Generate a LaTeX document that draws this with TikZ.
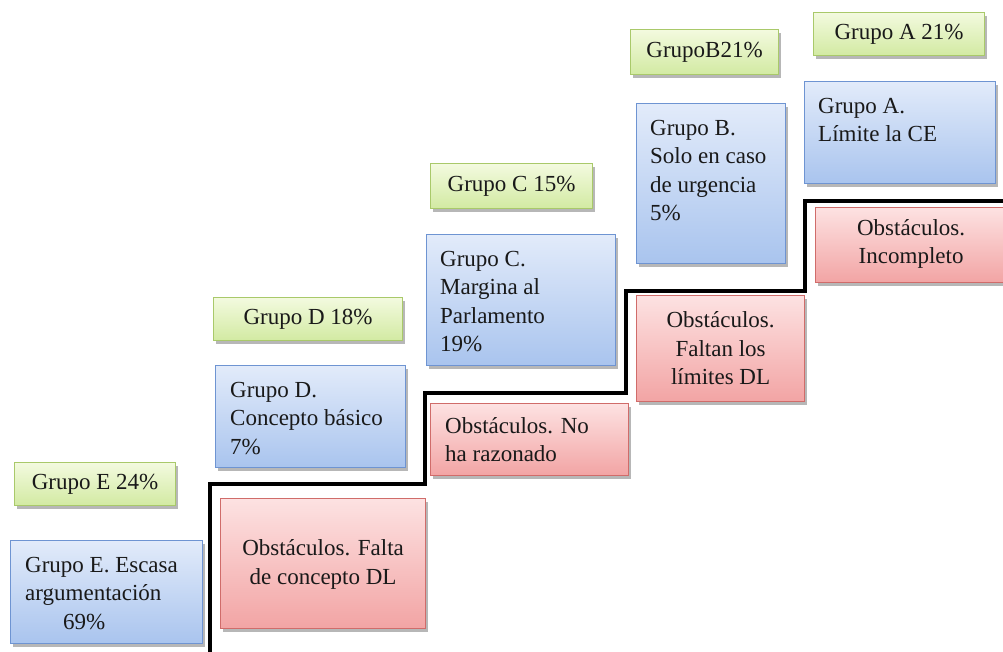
\documentclass[tikz,border=0pt]{standalone}
\usepackage{fontspec}
\setmainfont{Liberation Serif}
\usetikzlibrary{shadows}
\definecolor{gborder}{HTML}{A9C96A}
\definecolor{gtop}{HTML}{F3FADF}
\definecolor{gbot}{HTML}{D2EAA2}
\definecolor{bborder}{HTML}{6E94D2}
\definecolor{btop}{HTML}{E2EBFA}
\definecolor{bbot}{HTML}{A9C4EE}
\definecolor{rborder}{HTML}{D06C6A}
\definecolor{rtop}{HTML}{FDE2E2}
\definecolor{rbot}{HTML}{F2A4A4}
\tikzset{
  box/.style={rectangle, inner sep=0pt, line width=1.2pt, anchor=north west,
    drop shadow={shadow xshift=2pt, shadow yshift=-3pt, opacity=0.4, fill=black!70}},
  gbox/.style={box, draw=gborder, top color=gtop, bottom color=gbot},
  bbox/.style={box, draw=bborder, top color=btop, bottom color=bbot},
  rbox/.style={box, draw=rborder, top color=rtop, bottom color=rbot},
  txt/.style={inner sep=0pt, font=\fontsize{23}{28.5}\selectfont, text=black!90},
  ltxt/.style={txt, anchor=north west, align=left},
  ctxt/.style={txt, anchor=center, align=center},
  stair/.style={line width=4pt, black}
}
\begin{document}
\begin{tikzpicture}[x=1pt,y=-1pt]
\useasboundingbox (0,0) rectangle (1003,651);

% staircase line
\coordinate (s0) at (210,656);
\coordinate (s1) at (210,484);
\coordinate (s2) at (425,484);
\coordinate (s3) at (425,393);
\coordinate (s4) at (626,393);
\coordinate (s5) at (626,291);
\coordinate (s6) at (805,291);
\coordinate (s7) at (805,201);
\coordinate (s8) at (1010,201);
\draw[stair] (s0) -- (s1) -- (s2) -- (s3) -- (s4) -- (s5) -- (s6) -- (s7) -- (s8);

% green label boxes
\node[gbox, minimum width=161pt, minimum height=43pt] (gE) at (14,462) {};
\node[ctxt] (tgE) at (gE.center) {Grupo E 24\%};
\node[gbox, minimum width=189pt, minimum height=43pt] (gD) at (213,297) {};
\node[ctxt] (tgD) at (gD.center) {Grupo D 18\%};
\node[gbox, minimum width=162pt, minimum height=45pt] (gC) at (430,163) {};
\node[ctxt] (tgC) at (gC.center) {Grupo C 15\%};
\node[gbox, minimum width=148pt, minimum height=45pt] (gB) at (630,29) {};
\node[ctxt] (tgB) at (gB.center) {GrupoB21\%};
\node[gbox, minimum width=171pt, minimum height=43pt] (gA) at (813,12) {};
\node[ctxt] (tgA) at (gA.center) {Grupo A 21\%};

% blue group boxes
\node[bbox, minimum width=192pt, minimum height=103pt] (bE) at (10,540) {};
\node[ltxt] (tbE) at ([xshift=15pt,yshift=-12pt]bE.north west) {\strut Grupo E. Escasa\\argumentación\\\hspace*{38pt}69\%};
\node[bbox, minimum width=190pt, minimum height=102pt] (bD) at (215,365) {};
\node[ltxt] (tbD) at ([xshift=15pt,yshift=-12pt]bD.north west) {\strut Grupo D.\\Concepto básico\\7\%};
\node[bbox, minimum width=189pt, minimum height=131pt] (bC) at (426,234) {};
\node[ltxt] (tbC) at ([xshift=14pt,yshift=-12pt]bC.north west) {\strut Grupo C.\\Margina al\\Parlamento\\19\%};
\node[bbox, minimum width=149pt, minimum height=160pt] (bB) at (636,103) {};
\node[ltxt] (tbB) at ([xshift=14pt,yshift=-12pt]bB.north west) {\strut Grupo B.\\Solo en caso\\de urgencia\\5\%};
\node[bbox, minimum width=191pt, minimum height=102pt] (bA) at (804,81) {};
\node[ltxt] (tbA) at ([xshift=14pt,yshift=-12pt]bA.north west) {\strut Grupo A.\\Límite la CE};

% red obstacle boxes
\node[rbox, minimum width=205pt, minimum height=130pt] (rE) at (220,498) {};
\node[ctxt] (trE) at ([yshift=1pt]rE.center) {\strut Obstáculos. Falta\\de concepto DL};
\node[rbox, minimum width=198pt, minimum height=72pt] (rD) at (430,403) {};
\node[ltxt] (trD) at ([xshift=15pt,yshift=-10pt]rD.north west) {\strut Obstáculos. No\\ha razonado};
\node[rbox, minimum width=168pt, minimum height=106pt] (rC) at (636,295) {};
\node[ctxt] (trC) at ([yshift=2pt]rC.center) {\strut Obstáculos.\\Faltan los\\límites DL};
\node[rbox, minimum width=195pt, minimum height=75pt] (rA) at (815,207) {};
\node[ctxt] (trA) at ([xshift=-2pt,yshift=3pt]rA.center) {\strut Obstáculos.\\Incompleto};
\end{tikzpicture}
\end{document}
